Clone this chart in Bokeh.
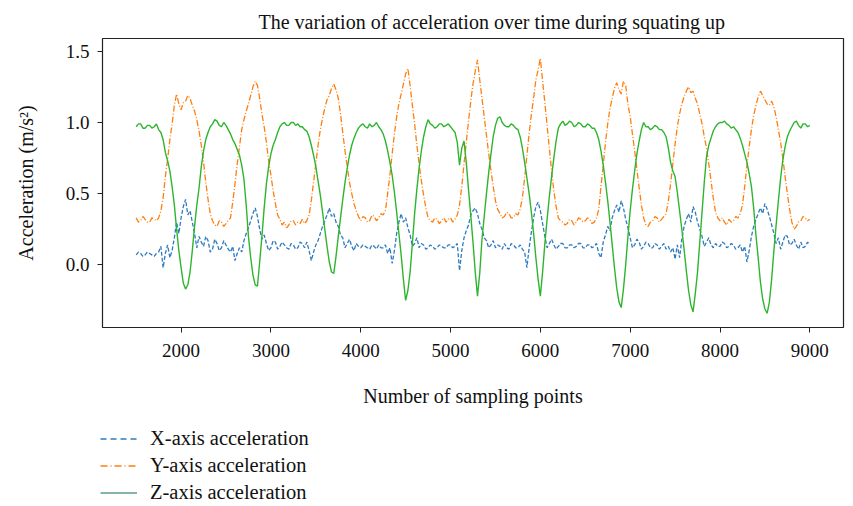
from bokeh.plotting import figure
from bokeh.layouts import column
from bokeh.models import Range1d, FixedTicker, NumeralTickFormatter, Legend, LegendItem, ColumnDataSource
from bokeh.embed import file_html
from bokeh.resources import INLINE

title_text = "The variation of acceleration over time during squating up"
x_label = "Number of sampling points"
y_label = "Acceleration (m/s\u00b2)"
series_names = ["X-axis acceleration", "Y-axis acceleration", "Z-axis acceleration"]
x_ticks = [2000, 3000, 4000, 5000, 6000, 7000, 8000, 9000]
y_ticks = [0.0, 0.5, 1.0, 1.5]

samples = list(range(1500, 9001, 25))

acc_x = [0.07, 0.09, 0.08, 0.06, 0.07, 0.09, 0.08, 0.07, 0.06, 0.08,
         0.09, 0.13, -0.02, 0.08, 0.14, 0.05, 0.10, 0.19, 0.30, 0.22,
         0.33, 0.41, 0.46, 0.35, 0.38, 0.30, 0.22, 0.12, 0.20, 0.16,
         0.13, 0.20, 0.17, 0.09, 0.11, 0.18, 0.15, 0.10, 0.12, 0.17,
         0.14, 0.11, 0.09, 0.13, 0.03, 0.08, 0.12, 0.09, 0.17, 0.22,
         0.26, 0.31, 0.36, 0.40, 0.34, 0.25, 0.18, 0.21, 0.15, 0.10,
         0.12, 0.17, 0.16, 0.11, 0.13, 0.16, 0.14, 0.12, 0.11, 0.15,
         0.14, 0.11, 0.12, 0.16, 0.15, 0.12, 0.16, 0.10, 0.03, 0.09,
         0.14, 0.17, 0.22, 0.27, 0.31, 0.35, 0.40, 0.34, 0.36, 0.30,
         0.27, 0.21, 0.19, 0.12, 0.15, 0.18, 0.13, 0.10, 0.15, 0.13,
         0.12, 0.14, 0.13, 0.12, 0.11, 0.14, 0.13, 0.11, 0.14, 0.12,
         0.12, 0.14, 0.08, 0.12, 0.01, 0.10, 0.22, 0.30, 0.36, 0.30,
         0.33, 0.26, 0.21, 0.13, 0.15, 0.19, 0.12, 0.15, 0.14, 0.11,
         0.12, 0.14, 0.13, 0.11, 0.12, 0.14, 0.13, 0.12, 0.12, 0.14,
         0.14, 0.12, 0.13, 0.15, -0.04, 0.10, 0.19, 0.24, 0.28, 0.35,
         0.38, 0.40, 0.36, 0.29, 0.25, 0.19, 0.17, 0.12, 0.14, 0.17,
         0.12, 0.14, 0.13, 0.11, 0.15, 0.12, 0.11, 0.15, 0.14, 0.12,
         0.12, 0.14, 0.11, 0.09, -0.02, 0.12, 0.23, 0.33, 0.41, 0.44,
         0.38, 0.29, 0.20, 0.12, 0.15, 0.18, 0.14, 0.11, 0.13, 0.15,
         0.15, 0.12, 0.12, 0.14, 0.14, 0.12, 0.13, 0.15, 0.15, 0.12,
         0.12, 0.14, 0.14, 0.12, 0.13, 0.15, 0.08, 0.05, 0.16, 0.21,
         0.27, 0.24, 0.33, 0.38, 0.42, 0.37, 0.45, 0.40, 0.32, 0.26,
         0.19, 0.12, 0.14, 0.18, 0.16, 0.11, 0.13, 0.16, 0.15, 0.12,
         0.12, 0.15, 0.14, 0.11, 0.13, 0.15, 0.11, 0.13, 0.09, 0.12,
         0.04, 0.14, 0.05, 0.18, 0.27, 0.32, 0.36, 0.30, 0.41, 0.37,
         0.30, 0.25, 0.20, 0.13, 0.16, 0.19, 0.14, 0.12, 0.15, 0.13,
         0.13, 0.16, 0.15, 0.12, 0.13, 0.15, 0.14, 0.11, 0.12, 0.14,
         0.09, 0.13, 0.02, 0.10, 0.20, 0.27, 0.32, 0.36, 0.40, 0.36,
         0.43, 0.39, 0.34, 0.28, 0.22, 0.15, 0.19, 0.11, 0.16, 0.21,
         0.20, 0.14, 0.15, 0.18, 0.14, 0.11, 0.16, 0.12, 0.13, 0.16,
         0.14]

acc_y = [0.33, 0.30, 0.31, 0.34, 0.32, 0.30, 0.30, 0.33, 0.32, 0.31,
         0.33, 0.38, 0.47, 0.62, 0.74, 0.88, 0.99, 1.12, 1.20, 1.13,
         1.09, 1.14, 1.15, 1.19, 1.17, 1.12, 1.08, 1.02, 0.94, 0.84,
         0.72, 0.58, 0.46, 0.36, 0.31, 0.28, 0.27, 0.31, 0.30, 0.27,
         0.29, 0.31, 0.33, 0.44, 0.57, 0.71, 0.83, 0.95, 1.02, 1.08,
         1.13, 1.19, 1.25, 1.29, 1.26, 1.17, 1.06, 0.97, 0.86, 0.73,
         0.63, 0.52, 0.43, 0.35, 0.32, 0.28, 0.30, 0.26, 0.28, 0.31,
         0.31, 0.28, 0.30, 0.29, 0.32, 0.29, 0.31, 0.35, 0.45, 0.58,
         0.71, 0.84, 0.95, 1.03, 1.10, 1.16, 1.19, 1.24, 1.27, 1.23,
         1.17, 1.06, 0.93, 0.80, 0.69, 0.58, 0.50, 0.43, 0.38, 0.34,
         0.31, 0.34, 0.33, 0.30, 0.31, 0.35, 0.34, 0.31, 0.33, 0.36,
         0.35, 0.38, 0.50, 0.63, 0.78, 0.92, 1.04, 1.13, 1.20, 1.27,
         1.34, 1.38, 1.26, 1.12, 0.99, 0.84, 0.71, 0.59, 0.49, 0.40,
         0.33, 0.31, 0.30, 0.33, 0.32, 0.29, 0.31, 0.33, 0.30, 0.32,
         0.33, 0.30, 0.32, 0.35, 0.42, 0.55, 0.71, 0.86, 1.01, 1.15,
         1.27, 1.36, 1.44, 1.30, 1.17, 1.04, 0.91, 0.78, 0.66, 0.55,
         0.45, 0.39, 0.36, 0.33, 0.34, 0.37, 0.36, 0.33, 0.33, 0.36,
         0.35, 0.39, 0.47, 0.61, 0.77, 0.92, 1.06, 1.17, 1.30, 1.37,
         1.45, 1.29, 1.14, 0.98, 0.82, 0.66, 0.52, 0.41, 0.33, 0.31,
         0.30, 0.28, 0.29, 0.32, 0.31, 0.28, 0.30, 0.33, 0.32, 0.30,
         0.31, 0.33, 0.32, 0.29, 0.30, 0.33, 0.39, 0.55, 0.70, 0.86,
         0.99, 1.10, 1.17, 1.24, 1.28, 1.23, 1.20, 1.29, 1.26, 1.13,
         1.04, 0.92, 0.80, 0.67, 0.54, 0.42, 0.33, 0.28, 0.27, 0.30,
         0.31, 0.34, 0.33, 0.30, 0.32, 0.34, 0.36, 0.45, 0.57, 0.71,
         0.85, 0.97, 1.06, 1.13, 1.18, 1.22, 1.25, 1.21, 1.22, 1.17,
         1.13, 1.06, 0.99, 0.90, 0.82, 0.71, 0.59, 0.47, 0.37, 0.33,
         0.31, 0.33, 0.30, 0.28, 0.32, 0.30, 0.31, 0.34, 0.33, 0.36,
         0.42, 0.55, 0.70, 0.83, 0.95, 1.05, 1.12, 1.18, 1.22, 1.19,
         1.16, 1.13, 1.12, 1.15, 1.11, 1.04, 0.95, 0.86, 0.75, 0.62,
         0.50, 0.39, 0.30, 0.25, 0.27, 0.30, 0.31, 0.34, 0.33, 0.31,
         0.32]

acc_z = [0.97, 0.99, 0.99, 0.96, 0.96, 0.98, 0.98, 0.96, 0.97, 0.99,
         0.95, 0.93, 0.88, 0.79, 0.73, 0.66, 0.55, 0.42, 0.25, 0.10,
         -0.02, -0.13, -0.17, -0.14, -0.05, 0.10, 0.27, 0.42, 0.54, 0.69,
         0.80, 0.88, 0.93, 0.97, 0.99, 1.02, 1.01, 0.98, 0.97, 1.00,
         0.98, 0.95, 0.92, 0.88, 0.85, 0.81, 0.77, 0.70, 0.60, 0.42,
         0.20, 0.05, -0.07, -0.14, -0.15, 0.02, 0.20, 0.40, 0.57, 0.69,
         0.78, 0.84, 0.88, 0.93, 0.97, 0.99, 1.00, 0.98, 0.98, 1.00,
         1.00, 0.98, 0.99, 0.97, 0.97, 0.95, 0.94, 0.90, 0.84, 0.77,
         0.69, 0.59, 0.49, 0.37, 0.25, 0.13, 0.02, -0.05, -0.06, 0.06,
         0.20, 0.33, 0.46, 0.58, 0.68, 0.77, 0.84, 0.89, 0.93, 0.96,
         0.98, 0.99, 0.97, 0.96, 0.99, 0.97, 0.98, 1.00, 0.97, 0.95,
         0.92, 0.87, 0.80, 0.72, 0.63, 0.51, 0.37, 0.22, 0.07, -0.10,
         -0.25, -0.18, -0.05, 0.15, 0.36, 0.53, 0.68, 0.80, 0.90, 0.97,
         1.02, 0.99, 0.98, 0.96, 0.97, 0.99, 0.99, 0.97, 0.98, 0.99,
         0.97, 0.95, 0.93, 0.86, 0.70, 0.82, 0.87, 0.72, 0.53, 0.35,
         0.16, -0.05, -0.22, -0.06, 0.18, 0.34, 0.50, 0.65, 0.78, 0.90,
         0.98, 1.03, 1.04, 1.00, 0.98, 0.97, 0.97, 0.99, 0.98, 0.96,
         0.95, 0.90, 0.82, 0.72, 0.61, 0.50, 0.37, 0.22, 0.05, -0.10,
         -0.22, -0.05, 0.15, 0.32, 0.48, 0.62, 0.75, 0.87, 0.96, 0.99,
         1.01, 0.98, 0.99, 1.01, 1.00, 0.97, 0.98, 1.00, 0.99, 0.97,
         0.97, 0.99, 0.98, 0.96, 0.96, 0.93, 0.88, 0.80, 0.70, 0.58,
         0.45, 0.30, 0.14, -0.02, -0.16, -0.26, -0.30, -0.17, 0.00, 0.20,
         0.38, 0.53, 0.66, 0.78, 0.87, 0.95, 1.00, 0.97, 0.97, 0.95,
         0.96, 0.98, 0.97, 0.95, 0.95, 0.93, 0.90, 0.82, 0.72, 0.66,
         0.62, 0.51, 0.38, 0.25, 0.11, -0.04, -0.18, -0.28, -0.33, -0.20,
         -0.05, 0.16, 0.37, 0.58, 0.76, 0.84, 0.89, 0.94, 0.97, 0.99,
         1.00, 1.00, 1.01, 0.99, 0.98, 0.96, 0.97, 0.95, 0.93, 0.89,
         0.84, 0.78, 0.72, 0.64, 0.55, 0.40, 0.21, 0.05, -0.12, -0.24,
         -0.31, -0.34, -0.26, -0.10, 0.10, 0.28, 0.45, 0.61, 0.74, 0.83,
         0.90, 0.94, 0.97, 1.00, 1.01, 0.98, 0.96, 0.99, 0.99, 0.97,
         0.98]

colors = ["#2f7bbf", "#ff7f0e", "#2db52d"]
legend_colors = ["#2f7bbf", "#ff7f0e", "#5a9e87"]
dashes = ["4 2", "6 2 1 2", "solid"]
legend_dashes = ["6 4", "7 3 1 3", "solid"]

FONT = "Liberation Serif"
W = 853
H_MAIN = 420
H_LEG = 86

p = figure(width=W, height=H_MAIN, output_backend="svg", toolbar_location=None,
           x_range=Range1d(1125, 9375), y_range=Range1d(-0.44, 1.59),
           min_border_left=102, min_border_right=10, min_border_top=38,
           min_border_bottom=93)
p.frame_align = False

p.title.text = title_text
p.title.align = "left"
p.title.offset = 156
p.title.text_font = FONT
p.title.text_font_size = "20px"
p.title.text_font_style = "normal"
p.title.text_color = "#111111"
p.title.standoff = 12

p.xgrid.visible = False
p.ygrid.visible = False
p.outline_line_color = "#222222"
p.outline_line_width = 1.2

src = ColumnDataSource(dict(s=samples, x=acc_x, y=acc_y, z=acc_z))
for col, c, d, lw in zip(["x", "y", "z"], colors, dashes, [1.3, 1.3, 1.4]):
    p.line("s", col, source=src, line_color=c, line_width=lw, line_dash=d)

for ax in (p.xaxis[0], p.yaxis[0]):
    ax.axis_line_color = None
    ax.major_tick_line_color = "#222222"
    ax.minor_tick_line_color = None
    ax.major_tick_in = 0
    ax.major_tick_out = 5
    ax.major_label_text_font = FONT
    ax.major_label_text_font_size = "19px"
    ax.major_label_text_color = "#111111"
    ax.axis_label_text_font = FONT
    ax.axis_label_text_font_size = "20px"
    ax.axis_label_text_font_style = "normal"
    ax.axis_label_text_color = "#111111"

p.xaxis.ticker = FixedTicker(ticks=x_ticks)
p.xaxis.axis_label = x_label
p.xaxis.major_label_standoff = 11
p.xaxis.axis_label_standoff = 25

p.yaxis.ticker = FixedTicker(ticks=y_ticks)
p.yaxis.formatter = NumeralTickFormatter(format="0.0")
p.yaxis.axis_label = y_label
p.yaxis.major_label_standoff = 8
p.yaxis.axis_label_standoff = 26

# legend panel below the chart
q = figure(width=W, height=H_LEG, output_backend="svg", toolbar_location=None,
           x_range=Range1d(0, 1), y_range=Range1d(0, 1),
           x_axis_location=None, y_axis_location=None,
           min_border=0, outline_line_color=None)
q.frame_align = False
q.xgrid.visible = False
q.ygrid.visible = False

nan = float("nan")
items = []
for name, c, d in zip(series_names, legend_colors, legend_dashes):
    r = q.line(x=[nan, nan], y=[nan, nan], line_color=c, line_width=1.4, line_dash=d)
    items.append(LegendItem(label=name, renderers=[r]))

legend = Legend(items=items, location=(100, 2), orientation="vertical",
                border_line_color=None, background_fill_alpha=0,
                label_text_font=FONT, label_text_font_size="20.5px",
                label_text_color="#111111", glyph_width=37, glyph_height=23,
                label_height=23, spacing=4, padding=0, margin=0,
                label_standoff=13)
q.add_layout(legend, "center")

layout = column(p, q, spacing=0)
open("out.html", "w").write(file_html(layout, INLINE))
